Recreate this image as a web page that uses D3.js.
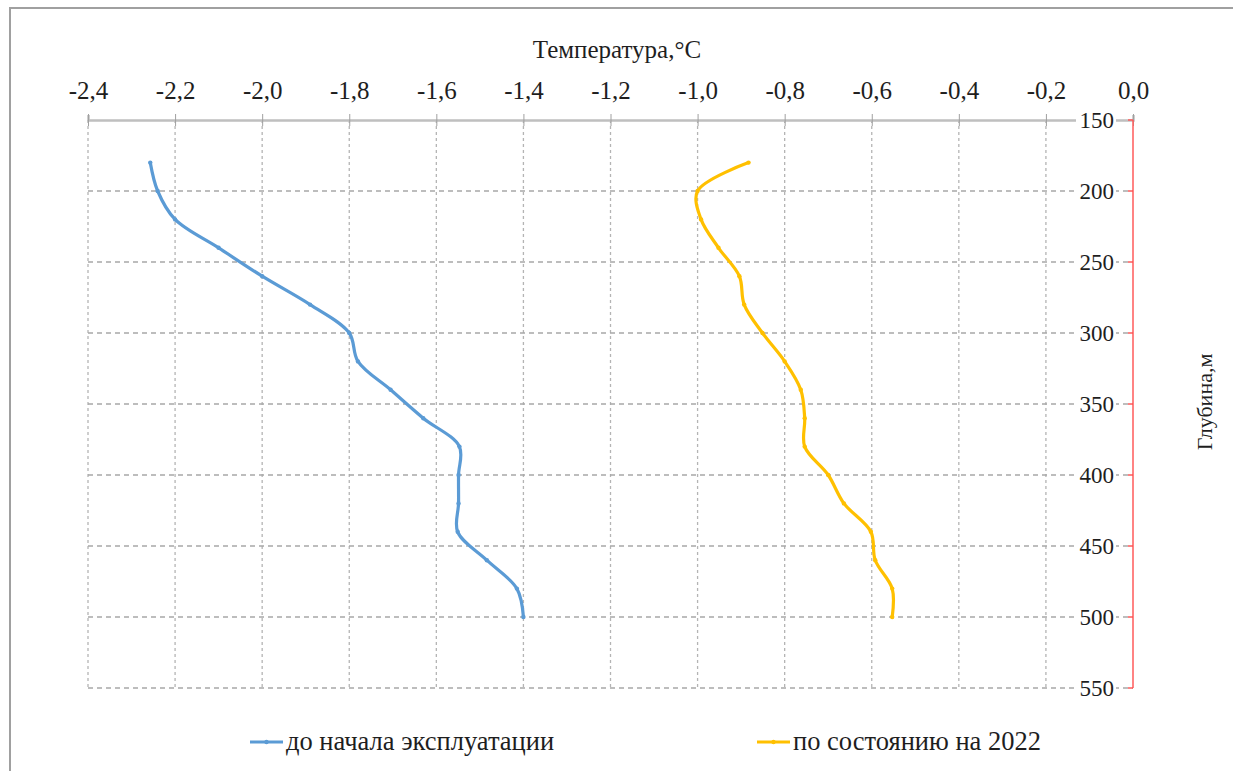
<!DOCTYPE html>
<html><head><meta charset="utf-8">
<script src="https://cdn.jsdelivr.net/npm/d3@7"></script>
<style>html,body{margin:0;padding:0;background:#fff;}svg{display:block;}</style>
</head><body>
<svg id="chart" width="1233" height="771"></svg>
<script>
// ---- data ----
const depths = [180, 200, 220, 240, 260, 280, 300, 320, 340, 360, 380, 400, 420, 440, 460, 480, 500];
const tempBefore = [-2.257, -2.24, -2.20, -2.10, -2.00, -1.89, -1.80, -1.78, -1.705, -1.63, -1.547, -1.549, -1.549, -1.551, -1.484, -1.415, -1.40];
const temp2022 = [-0.883, -1.0, -0.992, -0.952, -0.904, -0.893, -0.851, -0.80, -0.763, -0.754, -0.754, -0.70, -0.664, -0.602, -0.592, -0.553, -0.553];
const xTicks = [-2.4, -2.2, -2.0, -1.8, -1.6, -1.4, -1.2, -1.0, -0.8, -0.6, -0.4, -0.2, 0.0];
const yTicks = [150, 200, 250, 300, 350, 400, 450, 500, 550];
const seriesNames = ["до начала эксплуатации", "по состоянию на 2022"];
const xTitle = "Температура,°С";
const yTitle = "Глубина,м";

const colors = ["#5B9BD5", "#FFC000"];
const font = "'Liberation Serif','Times New Roman',serif";
const txt = "#1e1e1e";

const svg = d3.select("#chart");
const x = d3.scaleLinear().domain([-2.4, 0]).range([88, 1133]);
const y = d3.scaleLinear().domain([150, 550]).range([120, 688]);
const fmt = v => d3.format(".1f")(v).replace(".", ",").replace("\u2212", "-");

// frame
svg.append("path").attr("d", "M10,771 L10,8 L1233,8").attr("fill", "none")
  .attr("stroke", "#a0a0a0").attr("stroke-width", 2);

// grid
const grid = svg.append("g");
grid.selectAll("line.v").data(xTicks.filter(v => v !== 0)).join("line")
  .attr("x1", d => x(d)).attr("x2", d => x(d)).attr("y1", y(150)).attr("y2", y(550))
  .attr("stroke", "#b4b4b4").attr("stroke-width", 1.3).attr("stroke-dasharray", "3,3");
grid.selectAll("line.h").data(yTicks.filter(v => v !== 150)).join("line")
  .attr("x1", x(-2.4)).attr("x2", x(0)).attr("y1", d => y(d)).attr("y2", d => y(d))
  .attr("stroke", "#a8a8a8").attr("stroke-width", 1.3).attr("stroke-dasharray", "5,4");

// top axis
const topAxis = svg.append("g").attr("transform", `translate(0,${y(150)})`)
  .call(d3.axisTop(x).tickValues(xTicks).tickSize(5).tickPadding(8).tickFormat(fmt));
topAxis.select(".domain").attr("stroke", "#bfbfbf").attr("stroke-width", 2.5);
topAxis.selectAll(".tick line").attr("stroke", "#a0a0a0").attr("y2", -6).attr("y1", 6);
topAxis.selectAll(".tick text").attr("font-family", font).attr("font-size", 25)
  .attr("fill", txt).attr("y", -21).attr("dy", 0);

// right axis labels (left of red line)
const rg = svg.append("g").selectAll("g").data(yTicks).join("g")
  .attr("transform", d => `translate(1114,${y(d)})`);
rg.append("rect").attr("x", -38).attr("y", -9).attr("width", 40).attr("height", 18).attr("fill", "#fff");
rg.append("text").attr("text-anchor", "end").attr("dy", "0.34em")
  .attr("font-family", font).attr("font-size", 23).attr("fill", txt).text(d => d);
// red axis
svg.append("line").attr("x1", x(0)).attr("x2", x(0)).attr("y1", y(150)).attr("y2", y(550))
  .attr("stroke", "#ff5a5a").attr("stroke-width", 1.5);
svg.selectAll("line.rt").data(yTicks).join("line")
  .attr("x1", x(0) - 5).attr("x2", x(0)).attr("y1", d => y(d)).attr("y2", d => y(d))
  .attr("stroke", "#ff5a5a").attr("stroke-width", 1.5);

// titles
svg.append("text").attr("transform", "translate(617,58)")
  .attr("text-anchor", "middle").attr("font-family", font).attr("font-size", 25)
  .attr("fill", txt).text(xTitle);
svg.append("text").attr("transform", "translate(1212,402) rotate(-90)")
  .attr("text-anchor", "middle").attr("font-family", font).attr("font-size", 22)
  .attr("fill", txt).text(yTitle);

// series
const line = d3.line().x(d => x(d[0])).y(d => y(d[1])).curve(d3.curveCatmullRom.alpha(0.5));
[tempBefore, temp2022].forEach((vals, i) => {
  const pts = vals.map((v, k) => [v, depths[k]]);
  svg.append("path").datum(pts).attr("d", line).attr("fill", "none")
    .attr("stroke", colors[i]).attr("stroke-width", 3.2).attr("stroke-linecap", "round");
  svg.append("g").selectAll("circle").data(pts).join("circle")
    .attr("cx", d => x(d[0])).attr("cy", d => y(d[1])).attr("r", 2.2).attr("fill", colors[i]);
});

// legend
const legX = [250, 757];
seriesNames.forEach((name, i) => {
  const g = svg.append("g").attr("transform", `translate(${legX[i]},742)`);
  g.append("line").attr("x1", 0).attr("x2", 33).attr("stroke", colors[i]).attr("stroke-width", 3);
  g.append("circle").attr("cx", 16.5).attr("r", 2.2).attr("fill", colors[i]);
  g.append("text").attr("transform", "translate(36,8)")
    .attr("font-family", font).attr("font-size", 26.5).attr("fill", txt).text(name);
});
</script>
</body></html>
